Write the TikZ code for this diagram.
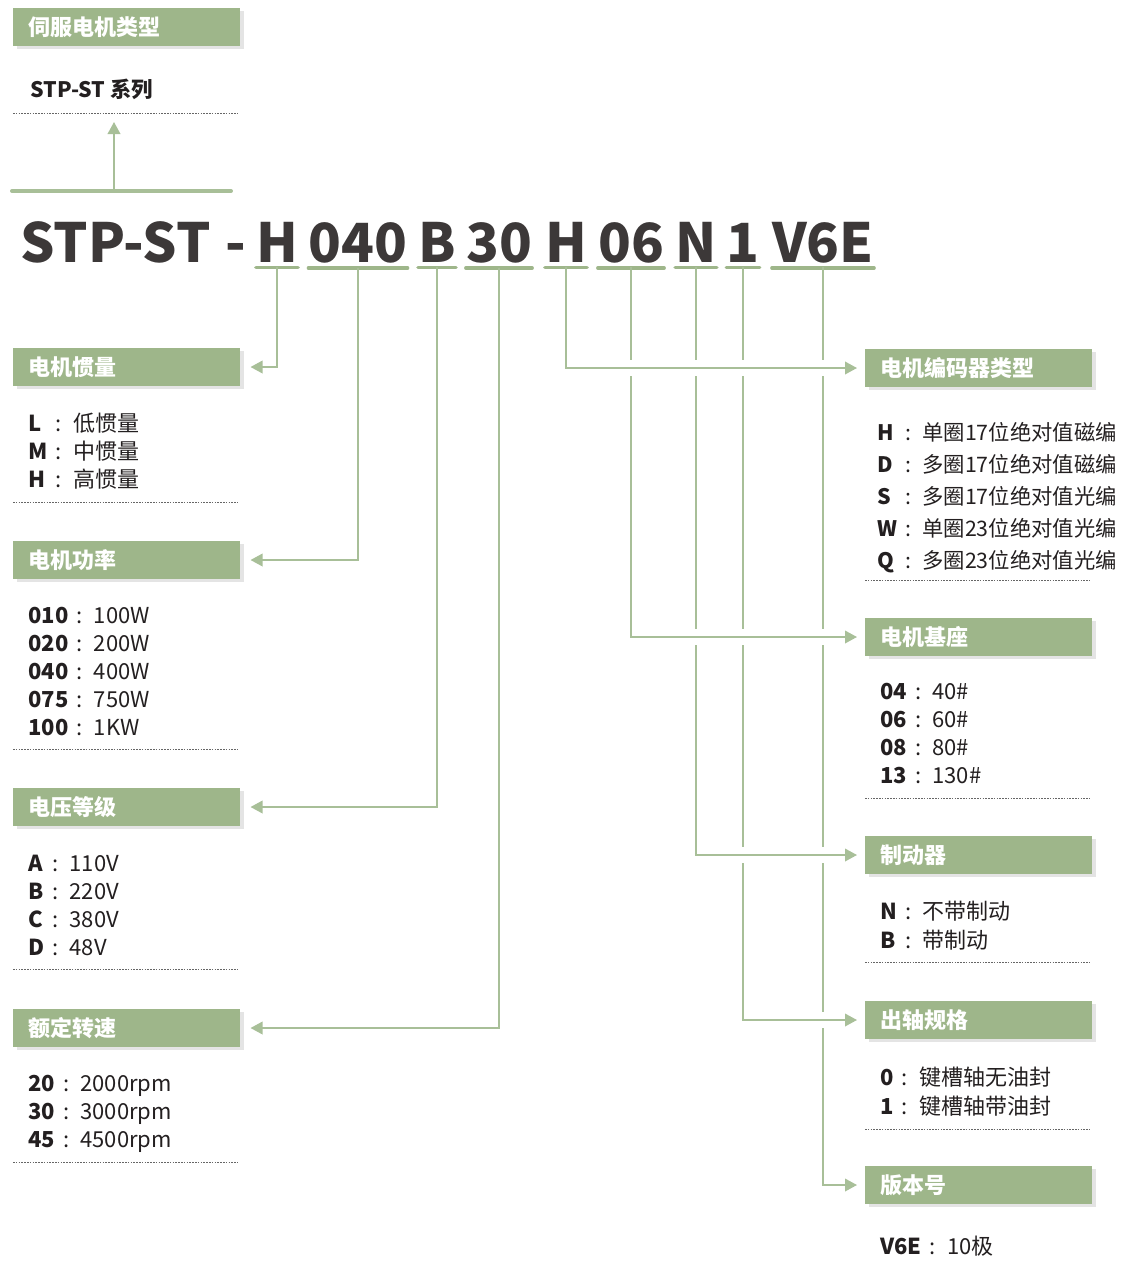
\documentclass[tikz,border=0pt]{standalone}
\usepackage{fontspec}
\setmainfont{Noto Sans CJK SC}
\usetikzlibrary{arrows.meta,positioning,shadows}

\definecolor{sage}{HTML}{9EB68A}
\definecolor{sageline}{HTML}{A8BF98}
\definecolor{ink}{HTML}{3C3838}
\definecolor{listink}{HTML}{231F20}

\newcommand{\keyrows}[1]{\begin{tabular}[t]{@{}l@{\hspace{6pt}:\hspace{8.5pt}}l@{}}#1\end{tabular}}

\begin{document}
\begin{tikzpicture}[
    x=0.75pt, y=-0.75pt,
    title/.style={fill=sage, text=white, anchor=west, align=left,
        font=\fontsize{16.5}{20}\selectfont\bfseries,
        text width=147.75pt, inner xsep=11.25pt, inner ysep=0pt, minimum height=28.5pt,
        drop shadow={shadow xshift=2.5pt, shadow yshift=-2.5pt, fill=black!30, opacity=0.35}},
    code/.style={anchor=base, inner sep=0pt, text=ink, font=\fontsize{40.5}{44}\selectfont\bfseries},
    uline/.style={draw=sage, line width=2.6pt, line cap=round},
    keys/.style={anchor=base west, inner sep=0pt, text=listink, font=\fontsize{16.5}{21}\selectfont},
    conn/.style={draw=sageline, line width=1.1pt},
    arr/.style={conn, -{Triangle[length=9pt,width=9.5pt]}},
    halo/.style={draw=white, line width=12pt},
    sep/.style={draw=black!60, line width=0.6pt, dash pattern=on 1.2pt off 0.9pt}
]
\useasboundingbox (0,0) rectangle (1123,1272);

% series header
\node[title] (box-type) at (13,27) {伺服电机类型};
\node[keys, font=\fontsize{16}{19}\selectfont\bfseries] (series) at (30,97) {STP-ST 系列};
\draw[sep] (13,113) -- (238,113);
\draw[sageline, line width=3pt, line cap=round] (12,191) -- (231,191);
\coordinate (bar-mid) at (114,191);
\coordinate (series-cut) at (114,122);
\draw[arr] (bar-mid) -- (series-cut);

% model code
\node[code, anchor=base west] (code-pre) at (20,262) {STP-ST};
\node[code] (code-dash) at (236,262) {-};
\node[code] (code-inertia) at (277,262) {H};
\node[code] (code-power) at (358,262) {040};
\node[code] (code-volt) at (437,262) {B};
\node[code] (code-speed) at (499,262) {30};
\node[code] (code-enc) at (566,262) {H};
\node[code] (code-frame) at (631,262) {06};
\node[code] (code-brake) at (696,262) {N};
\node[code] (code-shaft) at (743,262) {1};
\node[code] (code-ver) at (823,262) {V6E};
\foreach \c in {inertia,power,volt,speed,enc,frame,brake,shaft,ver}
    \draw[uline] ([yshift=-3.75pt]code-\c.south west) -- ([yshift=-3.75pt]code-\c.south east);

% left column
\node[title] (box-inertia) at (13,367) {电机惯量};
\node[keys] (list-inertia) at (28,431) {\keyrows{\textbf{L}&低惯量\\ \textbf{M}&中惯量\\ \textbf{H}&高惯量}};
\draw[sep] (13,502) -- (238,502);

\node[title] (box-power) at (13,560) {电机功率};
\node[keys] (list-power) at (28,623) {\keyrows{\textbf{010}&100W\\ \textbf{020}&200W\\ \textbf{040}&400W\\ \textbf{075}&750W\\ \textbf{100}&1KW}};
\draw[sep] (13,749) -- (238,749);

\node[title] (box-volt) at (13,807) {电压等级};
\node[keys] (list-volt) at (28,871) {\keyrows{\textbf{A}&110V\\ \textbf{B}&220V\\ \textbf{C}&380V\\ \textbf{D}&48V}};
\draw[sep] (13,969) -- (238,969);

\node[title] (box-speed) at (13,1028) {额定转速};
\node[keys] (list-speed) at (28,1091) {\keyrows{\textbf{20}&2000rpm\\ \textbf{30}&3000rpm\\ \textbf{45}&4500rpm}};
\draw[sep] (13,1162) -- (238,1162);

% right column
\node[title] (box-enc) at (865,368) {电机编码器类型};
\node[keys, font=\fontsize{16}{24}\selectfont] (list-enc) at (877,440) {\keyrows{\textbf{H}&单圈17位绝对值磁编\\ \textbf{D}&多圈17位绝对值磁编\\ \textbf{S}&多圈17位绝对值光编\\ \textbf{W}&单圈23位绝对值光编\\ \textbf{Q}&多圈23位绝对值光编}};
\draw[sep] (865,580) -- (1090,580);

\node[title] (box-frame) at (865,637) {电机基座};
\node[keys] (list-frame) at (880,699) {\keyrows{\textbf{04}&40\#\\ \textbf{06}&60\#\\ \textbf{08}&80\#\\ \textbf{13}&130\#}};
\draw[sep] (865,798) -- (1090,798);

\node[title] (box-brake) at (865,855) {制动器};
\node[keys, font=\fontsize{16.5}{21.75}\selectfont] (list-brake) at (880,919) {\keyrows{\textbf{N}&不带制动\\ \textbf{B}&带制动}};
\draw[sep] (865,962) -- (1090,962);

\node[title] (box-shaft) at (865,1020) {出轴规格};
\node[keys, font=\fontsize{16.5}{21.75}\selectfont] (list-shaft) at (880,1085) {\keyrows{\textbf{0}&键槽轴无油封\\ \textbf{1}&键槽轴带油封}};
\draw[sep] (865,1129) -- (1090,1129);

\node[title] (box-ver) at (865,1185) {版本号};
\node[keys] (list-ver) at (880,1254) {\keyrows{\textbf{V6E}&10极}};

% connectors to the left
\foreach \c/\b in {inertia/box-inertia, power/box-power, volt/box-volt, speed/box-speed}
    \draw[arr, shorten >=7.5pt] ([yshift=-3.75pt]code-\c.south) |- (\b.east);

% connectors to the right, with gaps where they cross
\foreach \c/\b in {enc/box-enc, frame/box-frame, brake/box-brake, shaft/box-shaft, ver/box-ver}
    \draw[conn, line cap=rect] ([yshift=-3.75pt]code-\c.south) -- (code-\c.south |- \b.west);
\foreach \c/\b in {enc/box-enc, frame/box-frame, brake/box-brake, shaft/box-shaft}
    \draw[halo] ([xshift=2pt]code-\c.south |- \b.west) -- ([xshift=-14pt]\b.west);
\foreach \c/\b in {enc/box-enc, frame/box-frame, brake/box-brake, shaft/box-shaft, ver/box-ver}
    \draw[arr, shorten >=6pt] (code-\c.south |- \b.west) -- (\b.west);
\end{tikzpicture}
\end{document}
